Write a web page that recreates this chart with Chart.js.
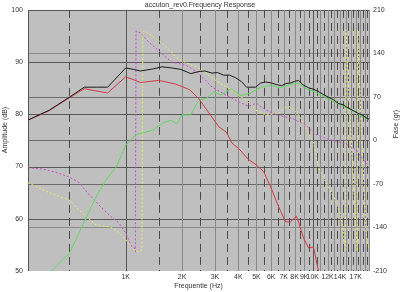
<!DOCTYPE html>
<html>
<head>
<meta charset="utf-8">
<script src="https://cdn.jsdelivr.net/npm/chart.js@4/dist/chart.umd.min.js"></script>
<style>
  html, body { margin: 0; padding: 0; background: #fff; }
  #wrap { width: 400px; height: 292px; }
</style>
</head>
<body>
<div id="wrap"><canvas id="fr"></canvas></div>
<script>
/*******************************************************
 * data
 *******************************************************/
const chartTitle = "accuton_rev0.Frequency Response";

// x tick labels
const xTickValues = [1000, 2000, 3000, 4000, 5000, 6000, 7000, 8000, 9000, 10000, 12000, 14000, 17000];
const xTickLabels = ["1K", "2K", "3K", "4K", "5K", "6K", "7K", "8K", "9K", "10K", "12K", "14K", "17K"];

// black: total SPL (dB)
const blackFreq = [300, 390, 500, 600, 700, 800, 1000, 1100, 1200, 1400, 1560, 1750, 1970, 2230, 2460, 2650, 2890, 3100, 3340, 3600, 3870, 4150, 4430, 4950, 5270, 5600, 6030, 6400, 6820, 7200, 7610, 8000, 8400, 8900, 9500, 10100, 10700, 11400, 12100, 12900, 13700, 14600, 15500, 16500, 17500, 18500, 19400, 20000];
const blackDb = [78.9, 80.8, 83.3, 85.2, 85.2, 85.2, 88.9, 88.6, 88.3, 88.7, 89.1, 88.9, 88.6, 87.8, 88.2, 88.3, 87.9, 88.0, 87.5, 87.5, 87.0, 86.3, 85.2, 85.2, 86.0, 86.2, 86.0, 85.7, 85.5, 85.9, 86.0, 86.3, 86.5, 85.6, 85.1, 84.8, 84.4, 83.8, 83.3, 82.8, 82.1, 81.8, 81.2, 80.7, 80.2, 79.8, 79.3, 79.1];

// red: woofer SPL (dB)
const redFreq = [300, 390, 500, 600, 800, 1000, 1200, 1500, 1850, 2200, 2460, 2780, 3150, 3450, 3700, 4030, 4550, 5000, 5470, 5960, 6570, 7160, 7600, 8180, 8400, 8930, 9500, 10100, 10700, 11400];
const redDb = [78.9, 80.7, 83.2, 84.9, 84.1, 87.2, 86.1, 86.5, 85.8, 84.7, 83.0, 80.3, 77.6, 76.6, 74.5, 73.4, 71.3, 70.3, 69.0, 66.1, 62.3, 59.4, 59.4, 60.5, 59.4, 56.3, 54.4, 54.6, 50.2, 46.5];

// green: tweeter SPL (dB)
const greenFreq = [300, 400, 500, 578, 703, 785, 888, 1000, 1130, 1250, 1400, 1590, 1740, 1878, 2000, 2230, 2370, 2500, 2715, 2960, 3225, 3650, 4110, 4600, 5230, 5960, 6570, 7160, 7800, 8400, 9150, 10300, 11700, 13200, 14900, 16900, 19400, 20000];
const greenDb = [45.5, 50.0, 53.4, 58.2, 64.6, 67.4, 69.9, 74.1, 76.1, 76.5, 77.0, 78.4, 78.9, 78.2, 79.9, 79.9, 81.8, 82.8, 83.1, 84.3, 83.7, 84.9, 83.6, 84.0, 85.1, 85.6, 85.1, 85.4, 85.8, 86.0, 85.0, 84.3, 83.2, 82.3, 81.4, 80.4, 79.2, 79.0];

// magenta dotted: phase (gr)
const magFreq = [300, 360, 420, 500, 565, 640, 720, 815, 920, 1000, 1080, 1115, 1125, 1135, 1200, 1330, 1760, 2100, 2460, 2890, 3430, 4020, 4550, 5000, 5600, 6570, 7700, 9160, 10300, 12100, 14900, 17000, 19100, 20000];
const magDeg = [-44, -46, -51, -59, -68, -88, -104, -120, -133, -149, -171, -173, -179, 176, 173, 158, 126, 121, 108, 86, 73, 62, 55, 60, 49, 40, 36, 25, 10, 2, -5, -15, -35, -40];

// yellow dotted: phase (gr)
const yelFreq = [300, 390, 500, 585, 695, 815, 888, 1000, 1107, 1177, 1220, 1235, 1281, 1561, 1925, 2460, 3145, 3690, 4380, 4950, 5600, 6575, 7160, 7610, 8400, 9160, 10100, 10300, 10700, 12100, 13200, 14200, 14600, 15000, 15050, 16000, 17300, 17350, 18200, 19300, 20000];
const yelDeg = [-68, -84, -96, -117, -136, -139, -144, -160, -176, -179, -176, 176, 175, 157, 130, 117, 93, 81, 65, 49, 41, 44, 54, 54, 41, 22, -4, -15, -43, -75, -96, -123, -150, -178, 178, 10, -178, 178, 20, -150, -175];

/*******************************************************
 * helpers
 *******************************************************/
const FONT = '"Liberation Sans", Arial, sans-serif';
const TXT = "#333";

function pts(fs, vs) {
  return fs.map((f, i) => ({ x: f, y: vs[i] }));
}

function line(ctx, x1, y1, x2, y2, color, dash) {
  ctx.strokeStyle = color;
  ctx.setLineDash(dash || []);
  ctx.beginPath();
  ctx.moveTo(x1, y1);
  ctx.lineTo(x2, y2);
  ctx.stroke();
}

// gray plot background + grid in the style of the measurement program
const plotGrid = {
  id: "plotGrid",
  beforeDatasetsDraw(chart) {
    const { ctx, chartArea: a, scales } = chart;
    const x = scales.x, y = scales.y, y2 = scales.y2;
    ctx.save();
    ctx.fillStyle = "#bfbfbf";
    ctx.fillRect(a.left, a.top, a.right - a.left, a.bottom - a.top);
    ctx.lineWidth = 1;

    // phase lines (right axis)
    [-140, -70, 0, 70, 140].forEach(v => {
      const py = Math.round(y2.getPixelForValue(v)) + 0.5;
      const c = Math.abs(v) === 140 ? "#8c8c8c" : "#6c6c6c";
      line(ctx, a.left, py, a.right, py, c);
    });
    // amplitude lines (left axis)
    [60, 70, 80, 90, 100].forEach(v => {
      const py = Math.round(y.getPixelForValue(v)) + 0.5;
      line(ctx, a.left, py, a.right, py, "#575757");
    });

    // frequency lines: solid every 1K, dashed in between
    for (let f = 500; f <= 20000; f += 500) {
      const px = Math.round(x.getPixelForValue(f)) + 0.5;
      if (f % 1000 === 0) {
        const c = (f === 1000 || f === 10000) ? "#575757" : "#8a8a8a";
        line(ctx, px, a.top, px, a.bottom, c);
      } else {
        line(ctx, px, a.top, px, a.bottom, "#4a4a4a", [8, 5]);
      }
    }
    const lx = Math.round(a.left) + 0.5;
    line(ctx, lx, a.top, lx, a.bottom, "#575757");
    ctx.restore();
  },
  afterDraw(chart) {
    const { ctx, chartArea: a } = chart;
    const midY = a.top + (a.bottom - a.top) * 0.46;
    ctx.save();
    ctx.font = "7px " + FONT;
    ctx.fillStyle = TXT;
    ctx.textAlign = "center";
    ctx.textBaseline = "middle";
    ctx.translate(a.left - 23, midY);
    ctx.rotate(-Math.PI / 2);
    ctx.fillText("Amplitude (dB)", 0, 0);
    ctx.restore();

    ctx.save();
    ctx.font = "7px " + FONT;
    ctx.fillStyle = TXT;
    ctx.textAlign = "center";
    ctx.textBaseline = "middle";
    ctx.translate(a.right + 27, midY - 6);
    ctx.rotate(-Math.PI / 2);
    ctx.fillText("Fase (gr)", 0, 0);
    ctx.restore();
  }
};

/*******************************************************
 * chart
 *******************************************************/
function ds(label, data, color, axis, dash) {
  return {
    label: label,
    data: data,
    yAxisID: axis,
    borderColor: color,
    borderWidth: 1,
    borderDash: dash || [],
    pointRadius: 0,
    fill: false,
    tension: 0
  };
}

new Chart(document.getElementById("fr"), {
  type: "line",
  data: {
    datasets: [
      ds("Totaal", pts(blackFreq, blackDb), "#1a1a1a", "y"),
      ds("Woofer", pts(redFreq, redDb), "#d23a48", "y"),
      ds("Tweeter", pts(greenFreq, greenDb), "#62d862", "y"),
      ds("Fase woofer", pts(magFreq, magDeg), "#c84ec8", "y2", [2, 2]),
      ds("Fase tweeter", pts(yelFreq, yelDeg), "#ecec6a", "y2", [2, 2])
    ]
  },
  options: {
    responsive: true,
    maintainAspectRatio: false,
    animation: false,
    devicePixelRatio: 1,
    layout: { padding: 0 },
    plugins: {
      legend: { display: false },
      tooltip: { enabled: false },
      title: {
        display: true,
        text: chartTitle,
        color: TXT,
        font: { family: FONT, size: 7, weight: "normal" },
        padding: { top: 0.5, bottom: 1 }
      }
    },
    scales: {
      x: {
        type: "logarithmic",
        min: 300,
        max: 20000,
        grid: { display: false, drawTicks: false },
        border: { display: false },
        afterBuildTicks: s => { s.ticks = xTickValues.map(v => ({ value: v })); },
        afterFit: s => { s.height = 21; },
        ticks: {
          autoSkip: false,
          maxRotation: 0,
          minRotation: 0,
          padding: 2,
          color: TXT,
          font: { family: FONT, size: 7 },
          callback: v => xTickLabels[xTickValues.indexOf(v)]
        },
        title: {
          display: true,
          text: "Frequentie (Hz)",
          color: TXT,
          font: { family: FONT, size: 7 },
          padding: { top: 0, bottom: 2 }
        }
      },
      y: {
        position: "left",
        min: 50,
        max: 100,
        grid: { display: false, drawTicks: false },
        border: { display: false },
        afterFit: s => { s.width = 28; },
        ticks: { stepSize: 10, padding: 5, color: TXT, font: { family: FONT, size: 7 } }
      },
      y2: {
        position: "right",
        min: -210,
        max: 210,
        grid: { display: false, drawTicks: false },
        border: { display: false },
        afterFit: s => { s.width = 31; },
        ticks: { stepSize: 70, padding: 4, color: TXT, font: { family: FONT, size: 7 } }
      }
    }
  },
  plugins: [plotGrid]
});
</script>
</body>
</html>
